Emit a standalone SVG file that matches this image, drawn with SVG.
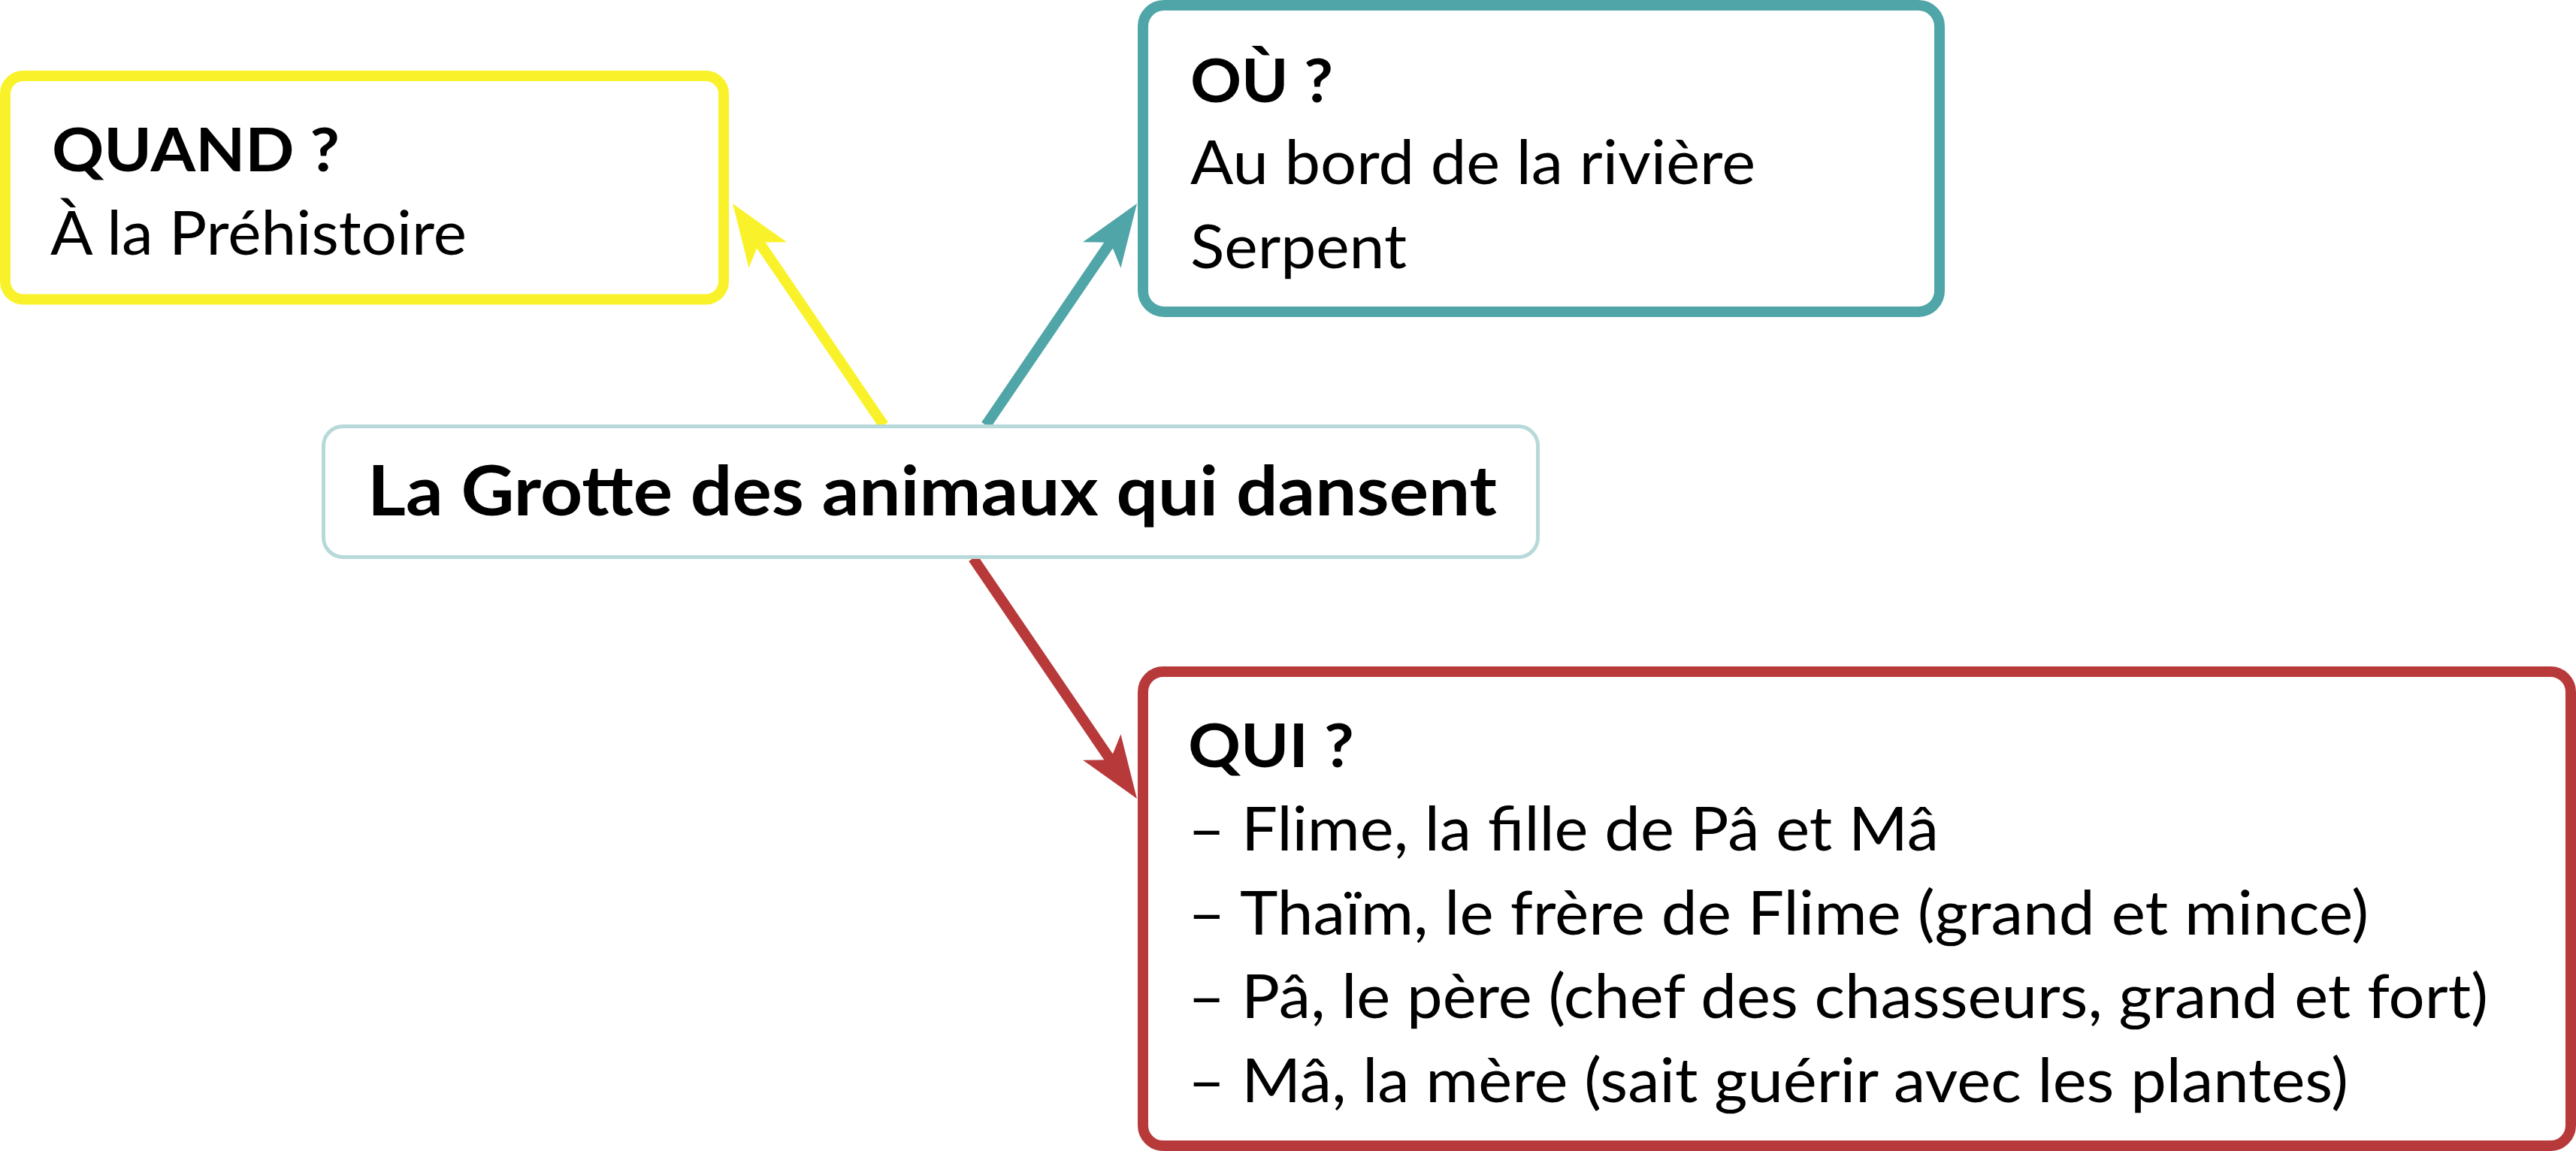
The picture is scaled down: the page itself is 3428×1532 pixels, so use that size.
<svg xmlns="http://www.w3.org/2000/svg" width="3428" height="1532" viewBox="0 0 3428 1532">
<style>
.b{font-family:Lato,"Noto Sans","Liberation Sans",sans-serif;font-weight:700;font-size:81px;fill:#000}
.r{font-family:Lato,"Noto Sans","Liberation Sans",sans-serif;font-weight:400;font-size:82px;fill:#000}
.t{font-family:Lato,"Noto Sans","Liberation Sans",sans-serif;font-weight:700;font-size:91px;fill:#000}
.box{fill:#fff;stroke-width:14}
.conn{fill:none;stroke-width:14}
</style>
<defs>
<marker id="ay" markerUnits="userSpaceOnUse" markerWidth="90" markerHeight="70" viewBox="0 -35 90 70" refX="20" refY="0" orient="auto" overflow="visible"><path d="M83,0 L0,-30.5 Q14,-10 20,0 Q14,10 0,30.5 Z" fill="#f9f22b"/></marker>
<marker id="at" markerUnits="userSpaceOnUse" markerWidth="90" markerHeight="70" viewBox="0 -35 90 70" refX="20" refY="0" orient="auto" overflow="visible"><path d="M83,0 L0,-30.5 Q14,-10 20,0 Q14,10 0,30.5 Z" fill="#4fa5a7"/></marker>
<marker id="ar" markerUnits="userSpaceOnUse" markerWidth="90" markerHeight="70" viewBox="0 -35 90 70" refX="20" refY="0" orient="auto" overflow="visible"><path d="M83,0 L0,-30.5 Q14,-10 20,0 Q14,10 0,30.5 Z" fill="#b8393a"/></marker>
</defs>
<rect width="3428" height="1532" fill="#fff"/>
<g id="connectors">
<line class="conn" x1="1176" y1="566" x2="1010.5" y2="323" stroke="#f9f22b" marker-end="url(#ay)"/>
<line class="conn" x1="1312" y1="566" x2="1477.5" y2="323" stroke="#4fa5a7" marker-end="url(#at)"/>
<line class="conn" x1="1295" y1="743" x2="1477.5" y2="1011" stroke="#b8393a" marker-end="url(#ar)"/>
</g>
<g id="quand">
<rect class="box" x="7" y="101" width="956" height="297.5" rx="24" stroke="#f9f22b"/>
<text class="b" x="69" y="228" textLength="383" lengthAdjust="spacingAndGlyphs">QUAND ?</text>
<text class="r" x="67" y="339" textLength="554" lengthAdjust="spacingAndGlyphs">À la Préhistoire</text>
</g>
<g id="ou">
<rect class="box" x="1521" y="7" width="1060" height="408" rx="28" stroke="#4fa5a7"/>
<text class="b" x="1584" y="136" textLength="190" lengthAdjust="spacingAndGlyphs">OÙ ?</text>
<text class="r" x="1584" y="245" textLength="752" lengthAdjust="spacingAndGlyphs">Au bord de la rivière</text>
<text class="r" x="1584" y="357" textLength="288" lengthAdjust="spacingAndGlyphs">Serpent</text>
</g>
<g id="titre">
<rect x="430.5" y="567.5" width="1616" height="174" rx="26" fill="#fff" stroke="#b8d9d9" stroke-width="5"/>
<text class="t" x="489" y="686" textLength="1503" lengthAdjust="spacingAndGlyphs">La Grotte des animaux qui dansent</text>
</g>
<g id="qui">
<rect class="box" x="1521" y="894" width="1900" height="631" rx="27" stroke="#b8393a"/>
<text class="b" x="1581" y="1021" textLength="221" lengthAdjust="spacingAndGlyphs">QUI ?</text>
<text class="r" x="1581" y="1132" textLength="999" lengthAdjust="spacingAndGlyphs">– Flime, la fille de Pâ et Mâ</text>
<text class="r" x="1581" y="1244" textLength="1571" lengthAdjust="spacingAndGlyphs">– Thaïm, le frère de Flime (grand et mince)</text>
<text class="r" x="1581" y="1355" textLength="1730" lengthAdjust="spacingAndGlyphs">– Pâ, le père (chef des chasseurs, grand et fort)</text>
<text class="r" x="1581" y="1467" textLength="1544" lengthAdjust="spacingAndGlyphs">– Mâ, la mère (sait guérir avec les plantes)</text>
</g>
</svg>
